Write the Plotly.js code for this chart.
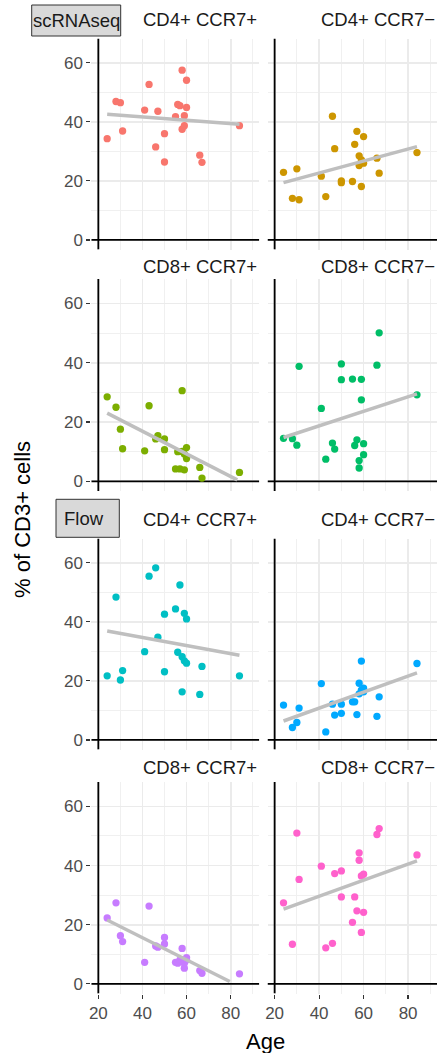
<!DOCTYPE html>
<html>
<head>
<meta charset="utf-8">
<script src="https://cdn.plot.ly/plotly-3.0.1.min.js"></script>
<style>html,body{margin:0;padding:0;background:#fff}#chart{width:438px;height:1053px}</style>
</head>
<body>
<div id="chart"></div>
<script>
// ---- data ----
const panelTitles = ["CD4+ CCR7+", "CD4+ CCR7−", "CD8+ CCR7+", "CD8+ CCR7−",
                     "CD4+ CCR7+", "CD4+ CCR7−", "CD8+ CCR7+", "CD8+ CCR7−"];
const methodLabels = ["scRNAseq", "Flow"];
const ages = [24,28,30,31,41,43,46,47,50,50,55,56,57,58,58,59,59,60,60,66,67,84];

const scCD4pos = [34.3,46.9,46.5,36.9,44.0,52.7,31.5,43.6,36.0,26.4,41.8,45.9,45.5,57.5,37.5,38.7,42.1,54.1,44.9,28.7,26.3,38.7];
const scCD4neg = [22.9,14.1,24.1,13.6,21.6,14.7,41.9,30.9,20.0,19.4,19.8,32.4,36.8,28.5,25.2,18.1,27.1,35.0,26.0,27.7,22.6,29.6];
const scCD8pos = [28.5,25.0,17.6,11.0,10.3,25.5,14.3,15.4,14.3,10.7,4.2,10.0,4.2,30.6,10.1,3.9,9.2,11.4,7.7,4.7,1.1,3.0];
const scCD8neg = [14.5,14.4,12.2,38.8,24.6,7.5,12.9,10.9,39.6,34.3,34.5,12.1,14.0,7.0,4.5,34.4,27.5,12.7,9.0,39.2,50.1,29.2];
const flCD4pos = [21.7,48.4,20.3,23.5,29.9,55.5,58.3,34.8,42.6,23.1,44.4,29.7,52.5,16.3,28.2,42.9,26.8,41.0,26.0,15.4,24.9,21.7];
const flCD4neg = [11.8,4.2,5.9,10.8,19.1,2.7,12.1,8.4,12.1,9.0,12.9,12.9,8.6,19.2,15.6,26.7,16.9,16.3,17.5,8.0,14.6,25.9];
const flCD8pos = [22.3,27.4,16.3,14.3,7.3,26.3,12.8,12.4,15.7,13.5,7.3,7.0,8.1,12.0,7.5,5.3,7.0,8.1,8.9,4.5,3.6,3.4];
const flCD8neg = [27.4,13.4,51.0,35.3,39.8,12.2,13.7,37.3,38.2,29.4,20.8,29.4,24.7,44.3,41.8,36.5,17.4,37.1,24.2,50.5,52.5,43.6];

// linear fit lines: start/end age and value
const fitStartAge = [24,24,24,24,24,24,24,24];
const fitEndAge   = [84,84,83,84,84,84,79.6,84];
const fitStartVal = [42.6,19.4,23.0,14.8,36.9,6.4,21.6,25.3];
const fitEndVal   = [39.2,31.6,0.5,29.5,28.7,22.7,0.8,41.6];

const xTicks = [20,40,60,80];
const yTicks = [0,20,40,60];

// ---- layout / style ----
const W = 438, H = 1053;
const colors = ["#F8766D","#CD9600","#7CAE00","#00BE67","#00BFC4","#00A9FF","#C77CFF","#FF61CC"];
const series = [scCD4pos, scCD4neg, scCD8pos, scCD8neg, flCD4pos, flCD4neg, flCD8pos, flCD8neg];
const colPx = [[91.3, 259.3], [267.5, 437]];
const rowPx = [[38.5, 249.5], [279, 491], [538.5, 749.5], [782, 993.5]];
const stripY = [19.8, 266.5, 519.5, 767];
const px = v => v / W, py = v => 1 - v / H;
const FONT = "Liberation Sans, Arial, Helvetica, sans-serif";

const traces = [], shapes = [], annotations = [];
const layout = {
  width: W, height: H, margin: {l:0, r:0, t:0, b:0},
  paper_bgcolor: "#fff", plot_bgcolor: "rgba(0,0,0,0)", showlegend: false,
  font: {family: FONT}
};

for (let i = 0; i < 8; i++) {
  const r = Math.floor(i / 2), c = i % 2, n = i + 1;
  const xa = "xaxis" + (n === 1 ? "" : n), ya = "yaxis" + (n === 1 ? "" : n);
  const xr = "x" + (n === 1 ? "" : n), yr = "y" + (n === 1 ? "" : n);
  layout[xa] = {
    domain: [px(colPx[c][0]), px(colPx[c][1])], range: [16.8, 93], anchor: yr,
    tickmode: "array", tickvals: xTicks, ticktext: xTicks.map(String),
    showgrid: true, gridcolor: "#ebebeb", gridwidth: 1.8,
    minor: {tickmode: "array", tickvals: [30,50,70,90], showgrid: true, gridcolor: "#f0f0f0", gridwidth: 1},
    zeroline: false, showline: false,
    showticklabels: r === 3, ticks: r === 3 ? "outside" : "", ticklen: 4, tickwidth: 1.2, tickcolor: "#333",
    tickfont: {size: 17, color: "#4d4d4d", family: FONT}, fixedrange: true
  };
  layout[ya] = {
    domain: [py(rowPx[r][1]), py(rowPx[r][0])], range: [-3.25, 68.25], anchor: xr,
    tickmode: "array", tickvals: yTicks, ticktext: yTicks.map(String),
    showgrid: true, gridcolor: "#ebebeb", gridwidth: 1.8,
    minor: {tickmode: "array", tickvals: [10,30,50], showgrid: true, gridcolor: "#f0f0f0", gridwidth: 1},
    zeroline: false, showline: false,
    showticklabels: c === 0, ticks: c === 0 ? "outside" : "", ticklen: 4, tickwidth: 1.2, tickcolor: "#333",
    tickfont: {size: 17, color: "#4d4d4d", family: FONT}, fixedrange: true
  };
  // reference lines at x = 20 and y = 0 drawn as data-space line traces beneath the points
  traces.push({
    type: "scatter", mode: "lines", x: [20, 20], y: [-3.25, 68.25], xaxis: xr, yaxis: yr,
    line: {color: "#000", width: 1.8}, hoverinfo: "skip", cliponaxis: true
  });
  traces.push({
    type: "scatter", mode: "lines", x: [16.8, 93], y: [0, 0], xaxis: xr, yaxis: yr,
    line: {color: "#000", width: 1.8}, hoverinfo: "skip", cliponaxis: true
  });
  traces.push({
    type: "scatter", mode: "markers", x: ages, y: series[i], xaxis: xr, yaxis: yr,
    marker: {size: 7.3, color: colors[i]}, hoverinfo: "skip", cliponaxis: false
  });
  traces.push({
    type: "scatter", mode: "lines", x: [fitStartAge[i], fitEndAge[i]], y: [fitStartVal[i], fitEndVal[i]],
    xaxis: xr, yaxis: yr, line: {color: "#bfbfbf", width: 3.5}, hoverinfo: "skip"
  });
  annotations.push({text: panelTitles[i], xref: "paper", x: px(colPx[c][1]), xanchor: "right",
                    yref: "paper", y: py(stripY[r]), yanchor: "middle", showarrow: false,
                    font: {size: 18.5, color: "#1a1a1a", family: FONT}});
}

// method boxes
const boxPx = [[31.7, 5, 120.7, 36], [56, 499.3, 119.3, 537.3]];
const boxTextX = [31.3, 62.3];
for (let k = 0; k < 2; k++) {
  const b = boxPx[k];
  shapes.push({type: "rect", xref: "paper", yref: "paper", x0: px(b[0]), x1: px(b[2]), y0: py(b[3]), y1: py(b[1]),
               fillcolor: "#d9d9d9", line: {color: "#333", width: 1}, layer: "above"});
  annotations.push({text: methodLabels[k], xref: "paper", x: px(boxTextX[k]), xanchor: "left",
                    yref: "paper", y: py((b[1] + b[3]) / 2), yanchor: "middle", showarrow: false,
                    font: {size: 18.5, color: "#1a1a1a", family: FONT}});
}

annotations.push({text: "% of CD3+ cells", xref: "paper", yref: "paper", x: px(22), y: py(520),
                  xanchor: "center", yanchor: "middle", textangle: -90, showarrow: false,
                  font: {size: 22, color: "#000", family: FONT}});
annotations.push({text: "Age", xref: "paper", yref: "paper", x: px(265), y: py(1041.7),
                  xanchor: "center", yanchor: "middle", showarrow: false,
                  font: {size: 22, color: "#000", family: FONT}});

layout.shapes = shapes;
layout.annotations = annotations;
Plotly.newPlot("chart", traces, layout, {staticPlot: true, displayModeBar: false});
</script>
</body>
</html>
